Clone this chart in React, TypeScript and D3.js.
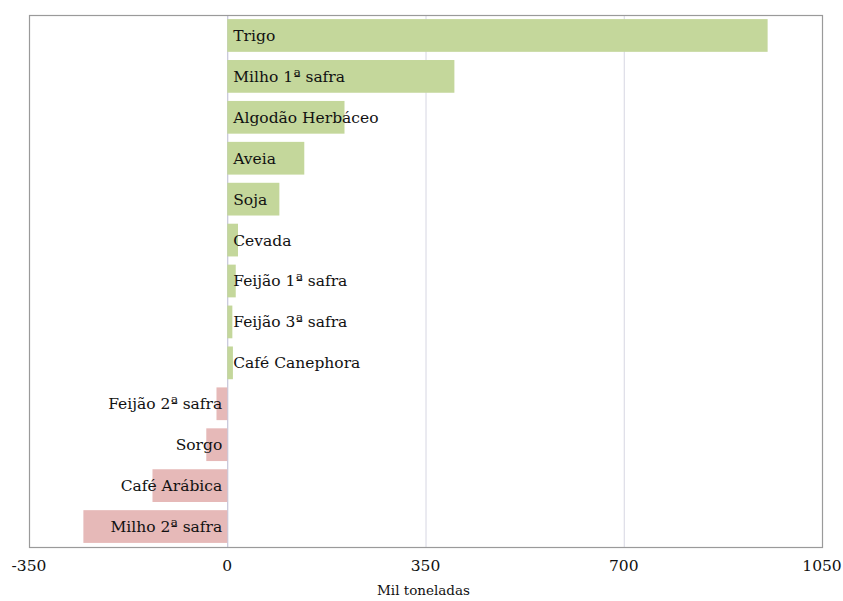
import React, { useEffect, useRef } from 'react';
import * as d3 from 'd3';

// Culturas (de cima para baixo) e variação em mil toneladas
const culturas = [
  'Trigo',
  'Milho 1ª safra',
  'Algodão Herbáceo',
  'Aveia',
  'Soja',
  'Cevada',
  'Feijão 1ª safra',
  'Feijão 3ª safra',
  'Café Canephora',
  'Feijão 2ª safra',
  'Sorgo',
  'Café Arábica',
  'Milho 2ª safra',
];
const variacao = [954, 401, 207, 136, 92, 19, 15, 9, 10, -19, -37, -132, -254];
const ticks = [-350, 0, 350, 700, 1050];

const width = 843;
const height = 601;
const margin = { top: 15, right: 21, bottom: 54, left: 29 };
const fonte = '"DejaVu Serif", serif';

const App: React.FC = () => {
  const svgRef = useRef<SVGSVGElement>(null);

  useEffect(() => {
    if (!svgRef.current) return;
    const svg = d3.select(svgRef.current);
    svg.selectAll('*').remove();

    const x = d3.scaleLinear()
      .domain([-350, 1050])
      .range([margin.left, width - margin.right]);

    const y = d3.scaleBand()
      .domain(culturas)
      .range([margin.top, height - margin.bottom])
      .paddingInner(0.2)
      .paddingOuter(0.1);

    const dados = culturas.map((nome, i) => ({ nome, valor: variacao[i] }));

    // Grade vertical
    svg.append('g')
      .selectAll('line')
      .data(ticks.filter(t => t !== -350 && t !== 1050))
      .join('line')
      .attr('x1', d => x(d) + 0.5)
      .attr('x2', d => x(d) + 0.5)
      .attr('y1', margin.top)
      .attr('y2', height - margin.bottom)
      .attr('stroke', d => (d === 0 ? '#b8b8d0' : '#d6d6e2'))
      .attr('stroke-width', 1);

    // Barras
    svg.append('g')
      .selectAll('rect')
      .data(dados)
      .join('rect')
      .attr('x', d => x(Math.min(0, d.valor)))
      .attr('y', d => y(d.nome)!)
      .attr('width', d => Math.abs(x(d.valor) - x(0)))
      .attr('height', y.bandwidth())
      .attr('fill', d => (d.valor >= 0 ? '#c4d79b' : '#e6b9b8'));

    // Moldura
    svg.append('rect')
      .attr('x', margin.left + 0.5)
      .attr('y', margin.top + 0.5)
      .attr('width', width - margin.left - margin.right)
      .attr('height', height - margin.top - margin.bottom)
      .attr('fill', 'none')
      .attr('stroke', '#9a9a9a')
      .attr('stroke-width', 1.2);

    // Rótulos das culturas
    svg.append('g')
      .style('font-family', fonte)
      .style('font-size', '15.5px')
      .attr('fill', '#111')
      .selectAll('text')
      .data(dados)
      .join('text')
      .attr('x', d => (d.valor >= 0 ? x(0) + 6 : x(0) - 5))
      .attr('y', d => y(d.nome)! + y.bandwidth() / 2)
      .attr('dy', '0.35em')
      .attr('text-anchor', d => (d.valor >= 0 ? 'start' : 'end'))
      .text(d => d.nome);

    // Eixo X
    svg.append('g')
      .style('font-family', fonte)
      .style('font-size', '15.5px')
      .attr('fill', '#111')
      .selectAll('text')
      .data(ticks)
      .join('text')
      .attr('x', d => x(d))
      .attr('y', height - margin.bottom + 24)
      .attr('text-anchor', 'middle')
      .text(d => String(d));

    svg.append('text')
      .attr('x', x(350) - 2)
      .attr('y', height - 6)
      .attr('text-anchor', 'middle')
      .style('font-family', fonte)
      .style('font-size', '13.5px')
      .attr('fill', '#111')
      .text('Mil toneladas');
  }, []);

  return (
    <svg
      ref={svgRef}
      width={width}
      height={height}
      style={{ position: 'absolute', left: 0, top: 0, background: '#fff' }}
    />
  );
};

export default App;
